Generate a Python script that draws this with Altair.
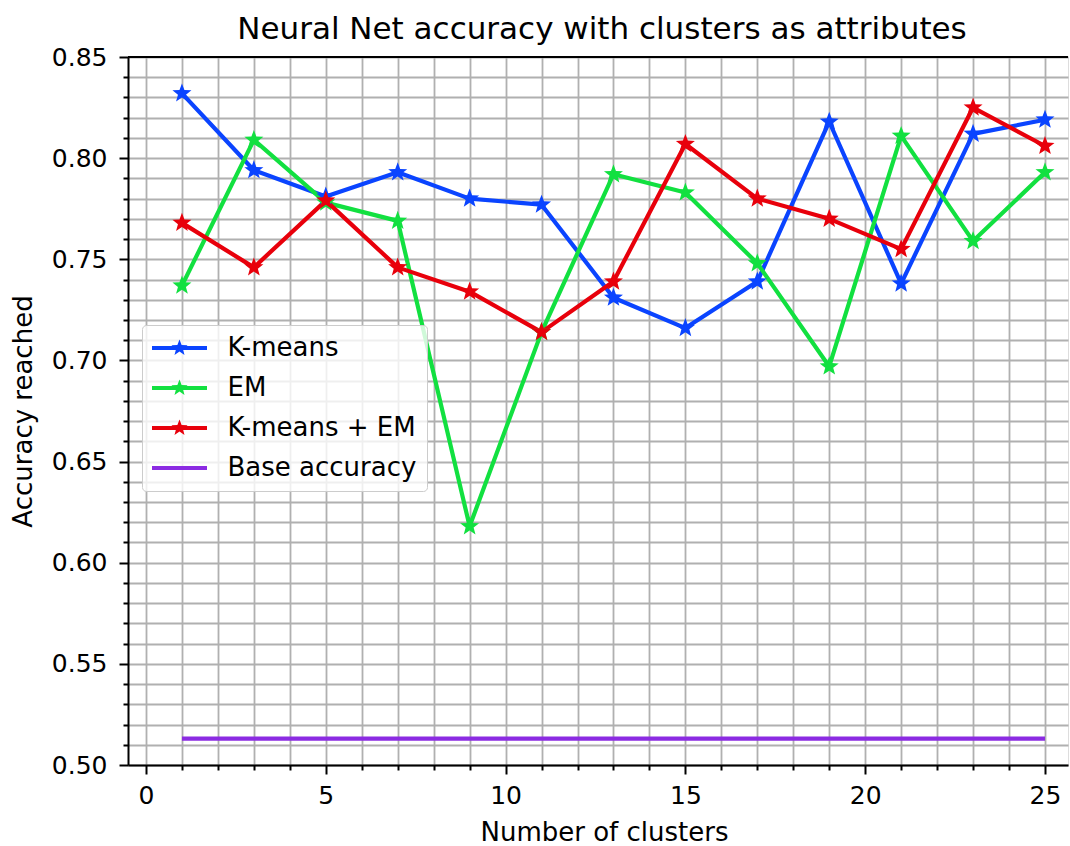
import math
import altair as alt
import pandas as pd

# ---- data ----
clusters = [1, 3, 5, 7, 9, 11, 13, 15, 17, 19, 21, 23, 25]
kmeans = [0.832, 0.794, 0.781, 0.793, 0.780, 0.777, 0.731, 0.716, 0.739, 0.818, 0.738, 0.812, 0.819]
em = [0.737, 0.809, 0.778, 0.769, 0.618, 0.714, 0.792, 0.783, 0.748, 0.697, 0.811, 0.759, 0.793]
kmeans_em = [0.768, 0.746, 0.779, 0.746, 0.734, 0.714, 0.739, 0.807, 0.780, 0.770, 0.755, 0.825, 0.806]
base_accuracy = 0.513

series_names = ["K-means", "EM", "K-means + EM", "Base accuracy"]
series_colors = ["#0a44ff", "#12e040", "#e8000b", "#8b2be2"]

rows = []
for name, vals in [("K-means", kmeans), ("EM", em), ("K-means + EM", kmeans_em)]:
    for c, v in zip(clusters, vals):
        rows.append({"clusters": c, "accuracy": v, "series": name})
for c in clusters:
    rows.append({"clusters": c, "accuracy": base_accuracy, "series": "Base accuracy"})
df = pd.DataFrame(rows)

# ---- symbol shapes ----
def star(R, r, cx=0.0, cy=0.0):
    pts = []
    for k in range(10):
        a = math.radians(-90 + 36 * k)
        rad = R if k % 2 == 0 else r
        pts.append((cx + rad * math.cos(a), cy + rad * math.sin(a)))
    return "M" + "L".join(f"{x:.4f},{y:.4f}" for x, y in pts) + "Z"

bar = "M-2.75,-0.19L2.75,-0.19L2.75,0.19L-2.75,0.19Z"
star_marker = star(1.0, 0.42)
legend_star_line = bar + star(0.85, 0.36)
legend_shapes = [legend_star_line, legend_star_line, legend_star_line, bar]

W, H = 940, 708
FONT = "DejaVu Sans"

color_scale = alt.Scale(domain=series_names, range=series_colors)

x_enc = alt.X(
    "clusters:Q",
    scale=alt.Scale(domain=[-0.5, 25.64], nice=False, zero=False),
    axis=alt.Axis(
        values=list(range(0, 26)), tickCount=100, format="d",
        labelExpr="datum.value % 5 == 0 ? datum.label : ''",
        tickSize={"condition": {"test": "datum.value % 5 == 0", "value": 9}, "value": 5},
        tickWidth=2, tickColor="black",
        domainColor="black", domainWidth=2,
        grid=True, gridColor="#b0b0b0", gridWidth=1.8,
        labelFont=FONT, labelFontSize=25, labelColor="black",
        labelBaseline="alphabetic", labelPadding=29,
        labelOverlap=False, labelFlush=False,
        title="Number of clusters", titleFont=FONT, titleFontSize=26,
        titleFontWeight="normal", titleColor="black",
        titleBaseline="alphabetic", titleY=75, titleX=476,
    ),
)

y_values = [round(0.50 + 0.01 * i, 2) for i in range(36)]
y_enc = alt.Y(
    "accuracy:Q",
    scale=alt.Scale(domain=[0.5, 0.85], nice=False, zero=False),
    axis=alt.Axis(
        values=y_values, tickCount=100,
        format=".2f",
        labelExpr="abs(datum.value * 20 - round(datum.value * 20)) < 0.001 ? datum.label : ''",
        tickSize={"condition": {"test": "abs(datum.value * 20 - round(datum.value * 20)) < 0.001", "value": 9}, "value": 5},
        tickWidth=2, tickColor="black",
        domainColor="black", domainWidth=2,
        grid=True, gridColor="#b0b0b0", gridWidth=1.8,
        labelFont=FONT, labelFontSize=25, labelColor="black",
        labelPadding=12, labelOverlap=False, labelFlush=False,
        title="Accuracy reached", titleFont=FONT, titleFontSize=26,
        titleFontWeight="normal", titleColor="black",
        titleBaseline="alphabetic", titleX=-97, titleY=H / 2,
    ),
)

base = alt.Chart(df)

legend_cfg = dict(
    title=None, orient="none", legendX=14, legendY=268,
    labelFont=FONT, labelFontSize=26, labelColor="black", labelLimit=500,
    symbolSize=400, symbolOffset=14.5, labelOffset=35,
    symbolStrokeWidth=0, symbolOpacity=1,
    rowPadding=14, padding=10,
    fillColor="rgba(255,255,255,0.8)", strokeColor="#cccccc",
    cornerRadius=4,
)

# legend-only layer (no visible marks): star + line symbols
legend_layer = base.transform_filter("false").mark_point(filled=True, opacity=1).encode(
    color=alt.Color("series:N", scale=color_scale, legend=alt.Legend(**legend_cfg)),
    shape=alt.Shape("series:N", scale=alt.Scale(domain=series_names, range=legend_shapes),
                    legend=alt.Legend(**legend_cfg)),
)

lines = base.mark_line(strokeWidth=4.2, strokeJoin="round").encode(
    x=x_enc, y=y_enc,
    color=alt.Color("series:N", scale=color_scale),
    detail="series:N",
    order="clusters:Q",
)

points = base.transform_filter("datum.series != 'Base accuracy'").mark_point(
    shape=star_marker, filled=True, size=400, opacity=1
).encode(
    x="clusters:Q", y="accuracy:Q",
    color=alt.Color("series:N", scale=color_scale),
)

top_spine = alt.Chart(pd.DataFrame({"k": [0]})).mark_rule(color="black", strokeWidth=2).encode(
    x=alt.value(0), x2=alt.value(W), y=alt.value(0)
)

chart = alt.layer(legend_layer, lines, points, top_spine).properties(
    width=W, height=H,
    title=alt.TitleParams(
        "Neural Net accuracy with clusters as attributes",
        font=FONT, fontSize=31, fontWeight="normal", color="black",
        anchor="middle", baseline="alphabetic", offset=17, dx=4, dy=42, frame="group",
    ),
    padding={"left": 128, "top": 57, "right": 2, "bottom": 81},
    autosize=alt.AutoSizeParams(type="none"),
).configure_view(stroke=None).configure(background="white")

chart.save("out.html", embed_options={"renderer": "svg", "actions": False})
